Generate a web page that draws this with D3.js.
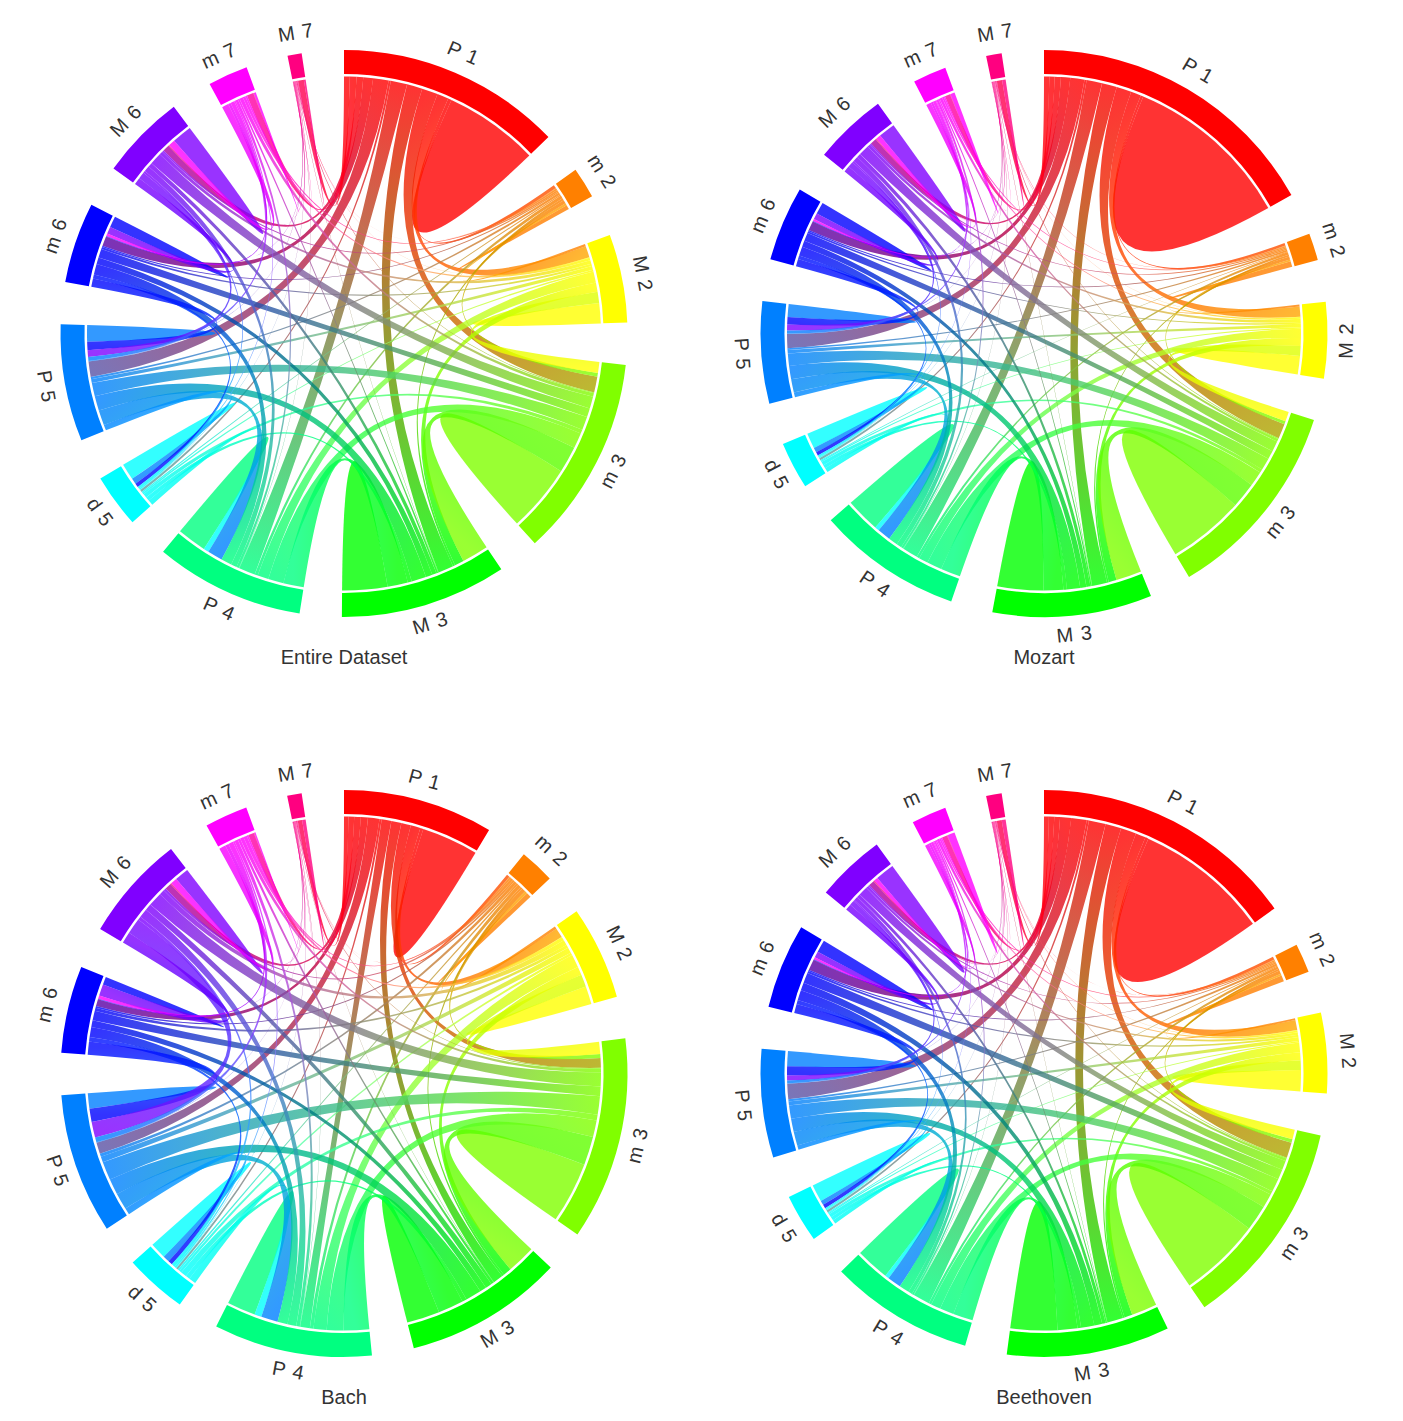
<!DOCTYPE html>
<html>
<head>
<meta charset="utf-8">
<script src="https://cdn.jsdelivr.net/npm/d3@7"></script>
<style>
  html, body { margin: 0; padding: 0; background: #fff; }
  text { font-family: "Liberation Sans", Arial, sans-serif; fill: #333; }
</style>
</head>
<body>
<svg id="chart" width="1403" height="1421"></svg>
<script>
var intervals = ['P 1', 'm 2', 'M 2', 'm 3', 'M 3', 'P 4', 'd 5', 'P 5', 'm 6', 'M 6', 'm 7', 'M 7'];
var colors = ['#ff0000', '#ff8000', '#ffff00', '#80ff00', '#00ff00', '#00ff80',
              '#00ffff', '#0080ff', '#0000ff', '#8000ff', '#ff00ff', '#ff0080'];
var titles = ['Entire Dataset', 'Mozart', 'Bach', 'Beethoven'];

// upper triangle of each interval table, each row starts on the diagonal
var entireDataset = [
  [21.4, .8, 2.6, 3.6, 3.5, 3.7, .5, 3.5, 2.2, 1.5, 1.5, 1.3],
  [1, .5, .8, .5, .7, .3, .5, .3, .4, .4, .1],
  [4.6, 2.5, 2.1, 2.5, .4, .9, .5, .8, .6, .1],
  [15.3, 6, 3.5, .9, 3, 2, 2.7, .8, .2],
  [10.2, 4.6, .9, 3.3, 1.5, 1, .4, .1],
  [6.6, 1.2, 3.4, 2.4, 1.3, .6, .1],
  [3.7, 1.3, .9, .5, .3, .1],
  [3.7, 1.9, 1.5, .9, .1],
  [2.5, 1.6, .6, .1],
  [4.5, 1.5, .2],
  [.5, .1],
  [.4]
];
var mozart = [
  [38.2, .6, 2.3, 3.4, 3.4, 3.5, .5, 3.2, 2.1, 1.4, 1.2, 1.2],
  [1.3, .4, .7, .4, .6, .2, .4, .3, .3, .3, .1],
  [4.2, 2.2, 1.8, 2.1, .3, .8, .4, .7, .4, .1],
  [17.4, 5.8, 3.4, .8, 2.8, 1.9, 2.4, .6, .2],
  [10.4, 4.5, .8, 3, 1.4, .9, .3, .1],
  [7.8, 1, 3, 2.1, 1.2, .5, .1],
  [3.5, 1.1, .8, .4, .2, .1],
  [2.9, 1.7, 1.3, .7, .1],
  [2.7, 1.4, .5, .1],
  [3.8, 1.1, .2],
  [1, .1],
  [.8]
];
var bach = [
  [12.9, .7, 2.2, 2.2, 2.3, 2.2, .5, 2.6, 1.6, 1.5, 1.3, 1.0],
  [1.1, .6, .9, .5, .8, .4, .7, .4, .6, .4, .1],
  [4.1, 2.8, 1.9, 3, .6, 1.3, .7, 1.2, .8, .1],
  [13.9, 6.5, 3.8, 1.3, 4.2, 2.2, 3.2, .8, .2],
  [7.5, 5.8, 1, 3.6, 1.5, 1.5, .6, .1],
  [6.5, 1.6, 3.8, 2.3, 2, .8, .1],
  [3.7, 1.5, 1, .8, .4, .1],
  [3.5, 3, 3.6, 1.1, .1],
  [1.8, 2.6, .8, .1],
  [3.2, 1.5, .2],
  [.3, .1],
  [.8]
];
var beethoven = [
  [30.5, .7, 2.3, 3.5, 3.6, 3.8, .5, 3.5, 2.5, 1.3, 1.2, 1.1],
  [1.4, .4, .8, .4, .6, .2, .5, .3, .3, .3, .1],
  [4.8, 2.2, 1.8, 2.2, .3, .9, .5, .6, .4, .1],
  [18.5, 5.8, 3.2, .8, 3, 2.3, 2.1, .6, .2],
  [10.6, 4.5, .8, 3, 1.8, .8, .3, .1],
  [7.6, .9, 3.1, 2.3, .9, .4, .1],
  [3.9, 1, .9, .3, .2, .1],
  [3.4, 2.1, 1.1, .6, .1],
  [2.8, 1.4, .5, .1],
  [4.3, .9, .2],
  [1.7, .1],
  [.9]
];
var tables = [entireDataset, mozart, bach, beethoven];
var centers = [[344, 333.5], [1044, 333.5], [344, 1073.5], [1044, 1073.5]];

var outerRadius = 283.5,
    innerRadius = 259.5,
    ribbonRadius = 257,
    labelRadius = 302,
    padAngle = 0.15,
    n = intervals.length;

var arc = d3.arc().innerRadius(innerRadius).outerRadius(outerRadius);
var ribbon = d3.ribbon().radius(ribbonRadius);
var svg = d3.select('#chart');
var defs = svg.append('defs');

function fullMatrix(tri) {
  var m = d3.range(n).map(function() { return d3.range(n).map(function() { return 0; }); });
  tri.forEach(function(row, i) {
    row.forEach(function(v, k) {
      m[i][i + k] = v;
      m[i + k][i] = v;
    });
  });
  return m;
}

// d3.chord can only sort subgroups by value, here each group walks counter clockwise round the ring and ends on itself
function chordLayout(matrix) {
  var total = d3.sum(matrix, function(r) { return d3.sum(r); });
  var k = (2 * Math.PI - padAngle * n) / total;
  var groups = [], subs = [], a = 0;
  d3.range(n).forEach(function(i) {
    var start = a;
    subs[i] = [];
    d3.range(1, n + 1).forEach(function(s) {
      var j = (i - s + n) % n;
      var w = matrix[i][j] * k;
      subs[i][j] = {startAngle: a, endAngle: a + w};
      a += w;
    });
    groups.push({index: i, startAngle: start, endAngle: a});
    a += padAngle;
  });
  var chords = [];
  d3.range(n).forEach(function(i) {
    d3.range(i, n).forEach(function(j) {
      chords.push({i: i, j: j, source: subs[i][j], target: subs[j][i]});
    });
  });
  return {groups: groups, chords: chords};
}

function point(a) {
  return [ribbonRadius * Math.sin(a), -ribbonRadius * Math.cos(a)];
}
function mid(d) { return (d.startAngle + d.endAngle) / 2; }

// colours from the i end to the j end of a ribbon, close neighbours show the other group's colour
function stopColors(i, j) {
  var mix = d3.interpolateRgb(colors[i], colors[j]);
  if (i === 0) return [colors[0], mix(j === 4 || j === 5 ? 1 : 0.65)];
  if (i >= 5 && j - i <= 2) return [colors[j], mix(0.6), mix(0.95)];
  if (i < 4 && j - i === 1) return [mix(0.25), mix(0.35), colors[i]];
  return [colors[i], colors[j]];
}

tables.forEach(function(tri, p) {
  var layout = chordLayout(fullMatrix(tri));
  var g = svg.append('g')
      .attr('transform', 'translate(' + centers[p][0] + ',' + centers[p][1] + ')');

  layout.chords.forEach(function(d) {
    var id = 'grad-' + p + '-' + d.i + '-' + d.j;
    var s = point(mid(d.source)), t = point(mid(d.target));
    var stops = stopColors(d.i, d.j);
    defs.append('linearGradient')
        .attr('id', id)
        .attr('gradientUnits', 'userSpaceOnUse')
        .attr('x1', s[0]).attr('y1', s[1])
        .attr('x2', t[0]).attr('y2', t[1])
      .selectAll('stop')
        .data(stops)
      .enter().append('stop')
        .attr('offset', function(c, k) { return k / (stops.length - 1); })
        .attr('stop-color', function(c) { return c; });
    d.id = id;
  });

  g.append('g').selectAll('path')
      .data(layout.chords)
    .enter().append('path')
      .attr('d', ribbon)
      .style('fill', function(d) { return d.i === d.j ? colors[d.i] : 'url(#' + d.id + ')'; })
      .style('fill-opacity', 0.8);

  g.append('g').selectAll('path')
      .data(layout.groups)
    .enter().append('path')
      .attr('d', arc)
      .style('fill', function(d) { return colors[d.index]; });

  g.append('g').selectAll('text')
      .data(layout.groups)
    .enter().append('text')
      .attr('transform', function(d) {
        var deg = mid(d) * 180 / Math.PI;
        if (d.index === 11) deg += 1;
        var flip = deg > 91 && deg < 269;
        return 'rotate(' + deg + ') translate(0,' + (flip ? -labelRadius : -labelRadius - 3) + ') rotate(' + (flip ? -180 : 0) + ')';
      })
      .attr('text-anchor', 'middle')
      .attr('dy', '.35em')
      .style('font-size', '20px')
      .style('letter-spacing', '1px')
      .text(function(d) { return intervals[d.index]; });

  g.append('text')
      .attr('y', 330.5)
      .attr('text-anchor', 'middle')
      .style('font-size', '20px')
      .text(titles[p]);
});
</script>
</body>
</html>
